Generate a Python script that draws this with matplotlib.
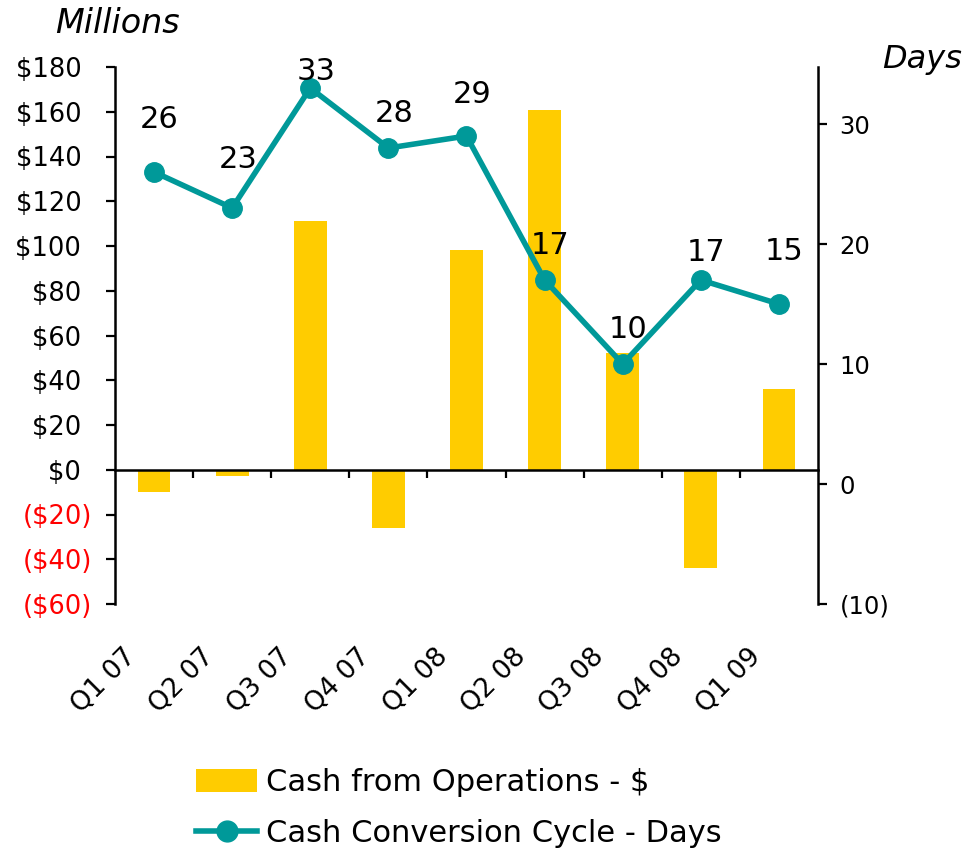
import matplotlib
matplotlib.use('Agg')
import matplotlib.pyplot as plt
import numpy as np
from matplotlib.lines import Line2D
from matplotlib.patches import Patch

quarters = ['Q1 07', 'Q2 07', 'Q3 07', 'Q4 07', 'Q1 08', 'Q2 08', 'Q3 08', 'Q4 08', 'Q1 09']
cash_ops = [-10, -3, 111, -26, 98, 161, 52, -44, 36]
ccc_days = [26, 23, 33, 28, 29, 17, 10, 17, 15]

usd_ticks = list(range(-60, 181, 20))
day_ticks = [-10, 0, 10, 20, 30]

bar_col = '#FFCC00'
line_col = '#009999'

plt.rcParams['font.family'] = ['DejaVu Sans']

fig = plt.figure(figsize=(9.64, 8.56), dpi=100)
ax = fig.add_axes([115/964, 1-604/856, (818-115)/964, (604-67)/856])

x = np.arange(len(quarters))
ax.bar(x, cash_ops, width=0.42, color=bar_col, zorder=1)
ax.set_xlim(-0.5, 8.5)
ax.set_ylim(-60, 180)
ax.set_yticks(usd_ticks)
# positives keep room for the closing bracket, like the Excel format
ax.set_yticklabels([f'${v} \u200a' if v >= 0 else f'(${-v})' for v in usd_ticks])
for lab, v in zip(ax.get_yticklabels(), usd_ticks):
    lab.set_color('red' if v < 0 else 'black')
ax.tick_params(axis='y', direction='out', length=6.5, width=1.6, pad=10, labelsize=18.5)

ax.spines['bottom'].set_position(('data', 0))
ax.spines['top'].set_visible(False)
ax.spines['right'].set_visible(False)
for s in ['left', 'bottom']:
    ax.spines[s].set_linewidth(1.8)
ax.set_xticks(np.arange(0.5, 8, 1))
ax.set_xticklabels([])
ax.tick_params(axis='x', direction='out', length=6, width=1.6)

# category labels at the bottom of the chart
for i, q in enumerate(quarters):
    ax.annotate(q, xy=(i, 0), xycoords=ax.get_xaxis_transform(),
                xytext=(-16, -35), textcoords='offset points',
                rotation=45, rotation_mode='anchor', ha='right', va='center',
                fontsize=19)

ax2 = ax.twinx()
ax2.plot(x, ccc_days, color=line_col, lw=4, marker='o', ms=14, zorder=3)
ax2.set_ylim(-10, 34.75)
ax2.set_yticks(day_ticks)
ax2.set_yticklabels([f'({-v})' if v < 0 else str(v) for v in day_ticks])
ax2.tick_params(axis='y', direction='out', length=6.5, width=1.6, pad=9, labelsize=17.5)
for s in ['left', 'top', 'bottom']:
    ax2.spines[s].set_visible(False)
ax2.spines['right'].set_linewidth(1.8)

offsets = [32, 29, 6, 19, 24, 19, 19, 14, 32]
for i, v in enumerate(ccc_days):
    ax2.annotate(str(v), xy=(i, v), xytext=(4, offsets[i]), textcoords='offset points',
                 ha='center', va='baseline', fontsize=22)

fig.text(55/964, 1-33/856, 'Millions', style='italic', fontsize=24, va='baseline')
fig.text(882/964, 1-68/856, 'Days', style='italic', fontsize=23, va='baseline')

handles = [Patch(facecolor=bar_col),
           Line2D([], [], color=line_col, lw=4, marker='o', ms=15)]
fig.legend(handles, ['Cash from Operations - $', 'Cash Conversion Cycle - Days'],
           loc='upper left', bbox_to_anchor=(196/964, 1-768/856), frameon=False,
           fontsize=22, handlelength=2.0, handleheight=0.8, handletextpad=0.3,
           labelspacing=0.72, borderpad=0, borderaxespad=0)

fig.savefig('out.png', dpi=100)
